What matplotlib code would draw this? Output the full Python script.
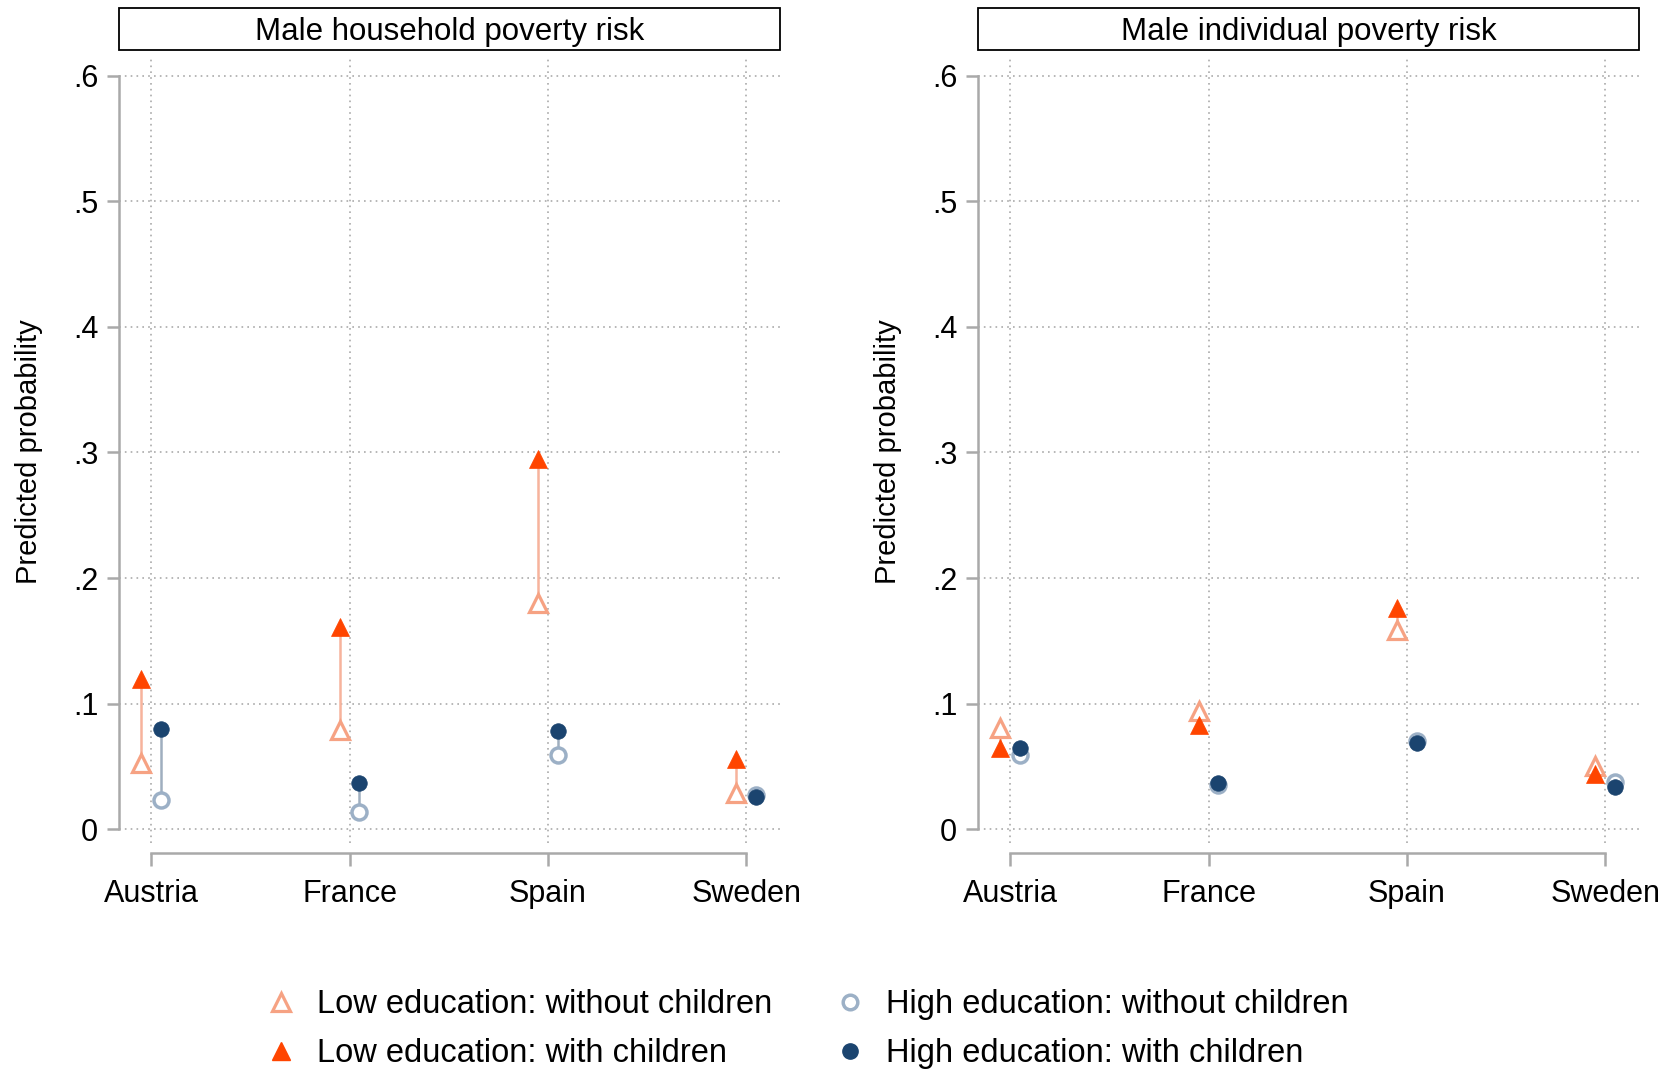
import matplotlib
matplotlib.use("Agg")
import matplotlib.pyplot as plt
from matplotlib.patches import Rectangle
from matplotlib.lines import Line2D

plt.rcParams['font.family'] = ['Liberation Sans', 'DejaVu Sans']

countries = ["Austria", "France", "Spain", "Sweden"]
panel_titles = ["Male household poverty risk", "Male individual poverty risk"]
ytick_vals = [0, 0.1, 0.2, 0.3, 0.4, 0.5, 0.6]
ytick_labels = ["0", ".1", ".2", ".3", ".4", ".5", ".6"]
series_labels = ["Low education: without children", "Low education: with children",
                 "High education: without children", "High education: with children"]

# Male household poverty risk
hh_low_without = [0.053, 0.079, 0.180, 0.029]
hh_low_with = [0.120, 0.161, 0.295, 0.056]
hh_high_without = [0.023, 0.014, 0.059, 0.027]
hh_high_with = [0.080, 0.037, 0.078, 0.026]

# Male individual poverty risk
ind_low_without = [0.081, 0.094, 0.159, 0.050]
ind_low_with = [0.065, 0.083, 0.176, 0.044]
ind_high_without = [0.059, 0.035, 0.070, 0.038]
ind_high_with = [0.065, 0.037, 0.069, 0.034]

C_LOW_OPEN = "#F6A283"
C_LOW_FILL = "#FF4500"
C_LOW_LINE = "#F7B39C"
C_HIGH_OPEN = "#9CB0C6"
C_HIGH_FILL = "#1B446F"
C_HIGH_LINE = "#9FAEBF"
C_AXIS = "#A9A9A9"

W, H = 1669, 1069
fig = plt.figure(figsize=(W / 100, H / 100), dpi=100)

panels = [
    (hh_low_without, hh_low_with, hh_high_without, hh_high_with),
    (ind_low_without, ind_low_with, ind_high_without, ind_high_with),
]
lefts = [119, 978]
ylabel_x = [29, 888]
ax_w = 661
top_px, bot_px = 58, 843
off = 0.05

for i, (lo_wo, lo_w, hi_wo, hi_w) in enumerate(panels):
    ax = fig.add_axes([lefts[i] / W, 1 - bot_px / H, ax_w / W, (bot_px - top_px) / H])
    xs = list(range(1, len(countries) + 1))
    xl = [x - off for x in xs]
    xh = [x + off for x in xs]
    for j in range(len(xs)):
        ax.plot([xl[j], xl[j]], [lo_wo[j], lo_w[j]], color=C_LOW_LINE, lw=1.8, zorder=2)
        ax.plot([xh[j], xh[j]], [hi_wo[j], hi_w[j]], color=C_HIGH_LINE, lw=1.8, zorder=2)
    ax.plot(xl, lo_wo, ls='none', marker='^', ms=13, mfc='white', mec=C_LOW_OPEN, mew=2.3, zorder=3)
    ax.plot(xh, hi_wo, ls='none', marker='o', ms=10.8, mfc='white', mec=C_HIGH_OPEN, mew=2.5, zorder=3)
    ax.plot(xl, lo_w, ls='none', marker='^', ms=13.5, mfc=C_LOW_FILL, mec=C_LOW_FILL, mew=0.5, zorder=4)
    ax.plot(xh, hi_w, ls='none', marker='o', ms=11.2, mfc=C_HIGH_FILL, mec=C_HIGH_FILL, mew=0.5, zorder=4)

    ax.set_xlim(0.838, 4.170)
    ax.set_ylim(-0.0109, 0.614)
    ax.set_xticks(xs)
    ax.set_xticklabels(countries)
    ax.set_yticks(ytick_vals)
    ax.set_yticklabels(ytick_labels)
    ax.grid(True, linestyle=(0, (1, 2.5)), color='#aaaaaa', lw=1.2)
    ax.set_axisbelow(True)
    for s in ['top', 'right']:
        ax.spines[s].set_visible(False)
    ax.spines['left'].set_bounds(0, 0.6)
    ax.spines['bottom'].set_bounds(1, 4)
    ax.spines['bottom'].set_position(('outward', 7))
    for s in ['left', 'bottom']:
        ax.spines[s].set_color(C_AXIS)
        ax.spines[s].set_linewidth(1.8)
    ax.tick_params(axis='both', direction='out', length=9, width=1.8, color=C_AXIS,
                   labelsize=22, labelcolor='black')
    ax.tick_params(axis='x', pad=10)
    ax.tick_params(axis='y', pad=6)

    # title box
    fig.add_artist(Rectangle((lefts[i] / W, 1 - 50 / H), ax_w / W, 41.5 / H,
                             transform=fig.transFigure, fill=False, ec='black', lw=1.3))
    fig.text((lefts[i] + ax_w / 2) / W, 1 - 32 / H, panel_titles[i], ha='center', va='center',
             fontsize=22.5)
    fig.text(ylabel_x[i] / W, 1 - 452 / H, "Predicted probability", rotation=90,
             ha='center', va='center', fontsize=21)

handles = [
    Line2D([], [], ls='none', marker='^', ms=12.5, mfc='white', mec=C_LOW_OPEN, mew=2.3),
    Line2D([], [], ls='none', marker='^', ms=13, mfc=C_LOW_FILL, mec=C_LOW_FILL),
    Line2D([], [], ls='none', marker='o', ms=10.5, mfc='white', mec=C_HIGH_OPEN, mew=2.5),
    Line2D([], [], ls='none', marker='o', ms=11, mfc=C_HIGH_FILL, mec=C_HIGH_FILL),
]
fig.legend(handles, series_labels, ncol=2, loc='center', bbox_to_anchor=(0.4833, 0.0374),
           frameon=False, fontsize=23.5, handlelength=1.0, handletextpad=0.6,
           columnspacing=1.87, labelspacing=0.55, borderpad=0)

fig.savefig("out.png", dpi=100)
